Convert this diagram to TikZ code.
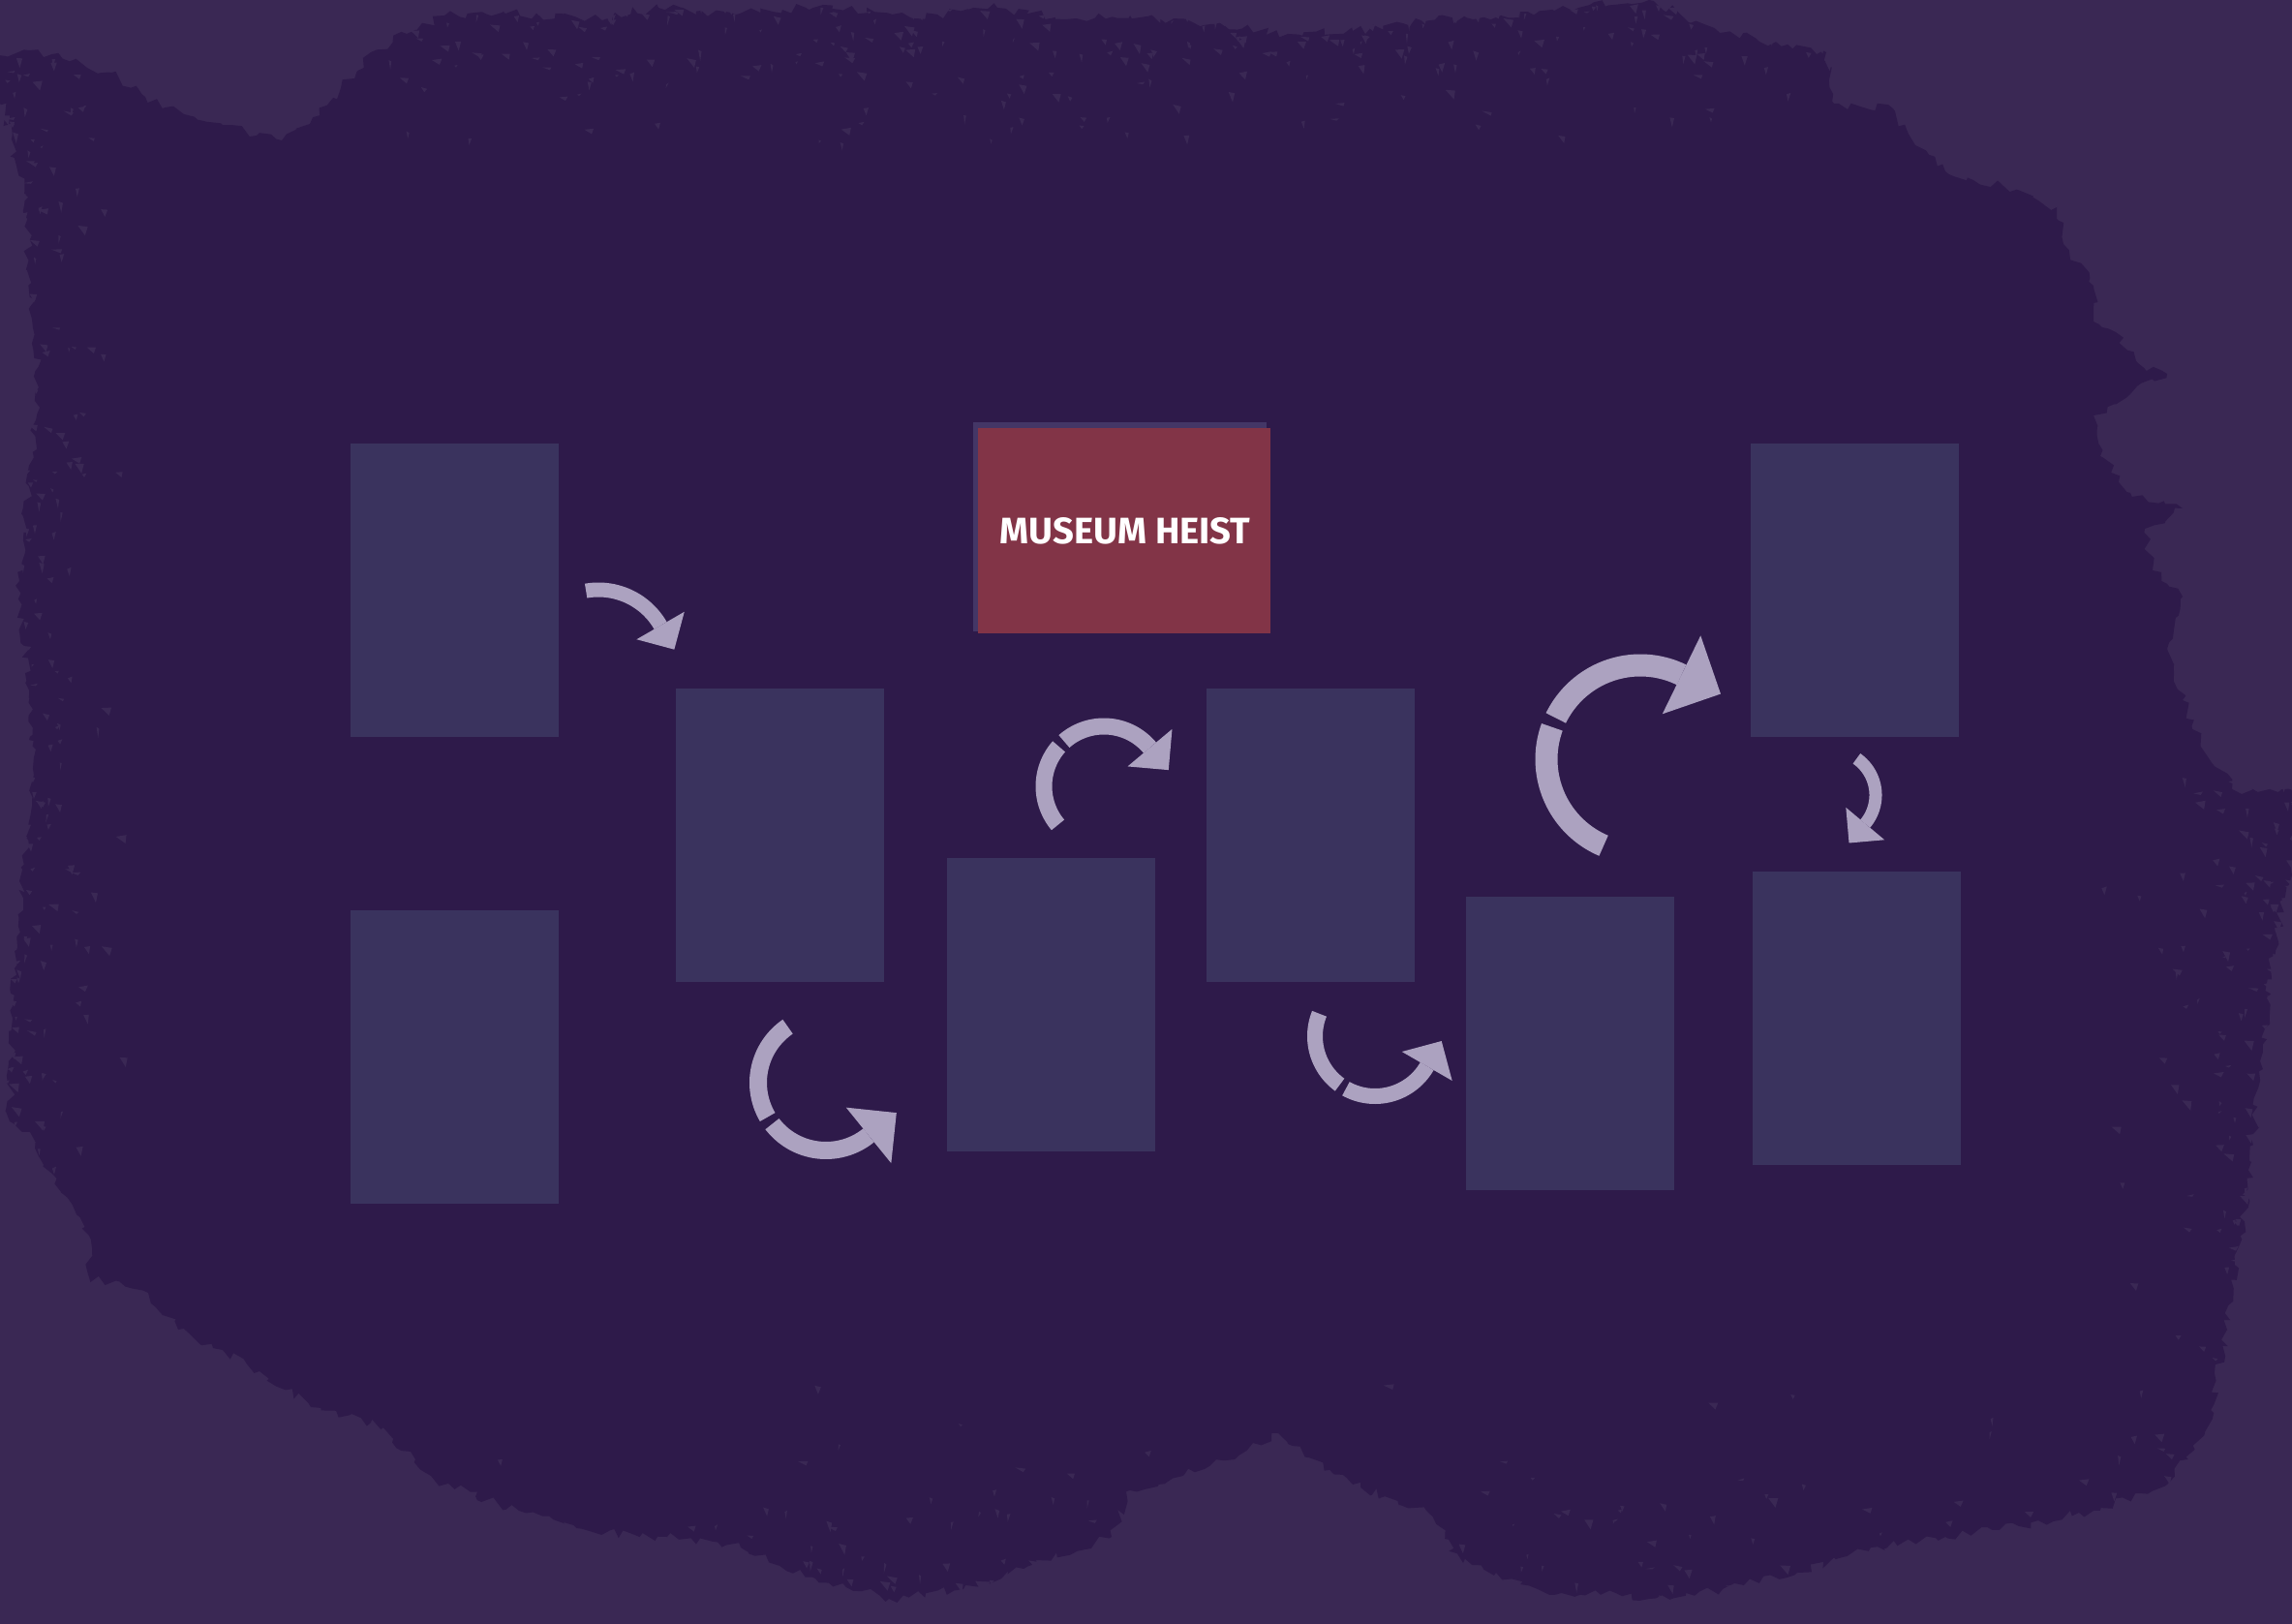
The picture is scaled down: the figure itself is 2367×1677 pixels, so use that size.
\documentclass[tikz,border=0pt]{standalone}
\usepackage{fontspec}
\usepackage{graphicx}
\setmainfont{Fira Sans}
\usetikzlibrary{calc,decorations.pathmorphing}
\definecolor{bgout}{RGB}{58,40,84}
\definecolor{bgin}{RGB}{46,26,74}
\definecolor{panel}{RGB}{58,51,94}
\definecolor{titlered}{RGB}{130,52,71}
\definecolor{titleedge}{RGB}{68,54,102}
\definecolor{arrowc}{RGB}{172,162,192}
% arc piece: cx, cy, r, from, to, band
\newcommand\hstarc[6]{%
  \draw[arrowc, line width=#6pt] plot[domain=#4:#5, samples=40, smooth]
    ({#1+#3*cos(\x)},{#2+#3*sin(\x)});}
% head: cx, cy, r, end angle, half width, turn (+90 clockwise / -90 anticlockwise)
\newcommand\hsthead[6]{%
  \fill[arrowc] ({#1+(#3+#5)*cos(#4)},{#2+(#3+#5)*sin(#4)})
    -- ({#1+(#3-#5)*cos(#4)},{#2+(#3-#5)*sin(#4)})
    -- ({#1+#3*cos(#4)+#5*cos(#4+(#6))},{#2+#3*sin(#4)+#5*sin(#4+(#6))}) -- cycle;}
\tikzset{
  panelbox/.style={fill=panel, inner sep=0pt, minimum width=215pt, minimum height=303pt},
}
\begin{document}
\begin{tikzpicture}[x=1pt,y=-1pt]
\useasboundingbox (0,0) rectangle (2367,1677);
\clip (0,0) rectangle (2367,1677);
\fill[bgout] (0,0) rectangle (2367,1677);
\pgfmathsetseed{4242}
% dark grunge blob
\fill[bgin, decorate, decoration={random steps, segment length=7pt, amplitude=5pt}]
 (-10,62) -- (30,52) -- (62,57) -- (90,70) -- (115,75) -- (150,100) -- (190,118) -- (230,129)
 -- (265,140) -- (291,145) -- (320,128) -- (352,91) -- (383,54) -- (420,35) -- (459,16)
 -- (520,12) -- (600,20) -- (680,8) -- (760,15) -- (850,5) -- (940,18) -- (1030,8) -- (1100,20)
 -- (1167,16) -- (1250,25) -- (1330,35) -- (1397,32) -- (1470,22) -- (1550,16) -- (1630,8)
 -- (1703,0) -- (1760,25) -- (1817,43) -- (1886,54) -- (1894,107) -- (1955,112) -- (1978,150)
 -- (2009,177) -- (2070,193) -- (2124,214) -- (2131,252) -- (2162,295) -- (2162,332)
 -- (2185,343) -- (2208,375) -- (2238,386) -- (2200,407) -- (2162,429) -- (2169,471)
 -- (2200,509) -- (2254,525) -- (2215,546) -- (2223,589) -- (2254,616) -- (2238,670)
 -- (2254,723) -- (2277,777) -- (2315,820) -- (2375,814) -- (2375,837) -- (2345,1000)
 -- (2325,1200) -- (2300,1373) -- (2277,1480) -- (2238,1533) -- (2162,1560) -- (2085,1576)
 -- (2009,1587) -- (1932,1598) -- (1856,1624) -- (1779,1641) -- (1703,1651) -- (1588,1641)
 -- (1511,1614) -- (1473,1560) -- (1397,1533) -- (1320,1480) -- (1244,1517) -- (1167,1539)
 -- (1148,1587) -- (1071,1614) -- (995,1641) -- (918,1651) -- (842,1630) -- (765,1598)
 -- (689,1587) -- (612,1582) -- (536,1560) -- (459,1533) -- (429,1507) -- (383,1469)
 -- (321,1453) -- (268,1416) -- (230,1394) -- (184,1373) -- (153,1335) -- (92,1319)
 -- (92,1276) -- (54,1212) -- (31,1169) -- (10,1158) -- (15,1000) -- (35,800) -- (20,600)
 -- (40,400) -- (25,200) -- cycle;
% grunge specks near the edges
\foreach \i in {1,...,320}{
  \pgfmathsetmacro\px{300+1600*rnd}
  \pgfmathsetmacro\py{5+160*rnd*rnd}
  \fill[bgout] (\px,\py) -- ++({2+9*rnd},{-2+4*rnd}) -- ++({-3+2*rnd},{2+8*rnd}) -- cycle;
}
\foreach \i in {1,...,260}{
  \pgfmathsetmacro\px{130*rnd*rnd}
  \pgfmathsetmacro\py{60+1150*rnd}
  \fill[bgout] (\px,\py) -- ++({2+9*rnd},{-2+4*rnd}) -- ++({-3+2*rnd},{2+8*rnd}) -- cycle;
}
\foreach \i in {1,...,220}{
  \pgfmathsetmacro\px{2367-200*rnd*rnd}
  \pgfmathsetmacro\py{800+750*rnd}
  \fill[bgout] (\px,\py) -- ++({2+9*rnd},{-2+4*rnd}) -- ++({-3+2*rnd},{2+8*rnd}) -- cycle;
}
\foreach \i in {1,...,260}{
  \pgfmathsetmacro\px{250+2000*rnd}
  \pgfmathsetmacro\py{1677-260*rnd*rnd}
  \fill[bgout] (\px,\py) -- ++({2+9*rnd},{-2+4*rnd}) -- ++({-3+2*rnd},{2+8*rnd}) -- cycle;
}
% panels
\node[panelbox] (r1) at (469,609.5) {};
\node[panelbox] (r2) at (469,1091) {};
\node[panelbox] (r3) at (805,862.5) {};
\node[panelbox] (r4) at (1085,1037.5) {};
\node[panelbox] (r5) at (1353,862.5) {};
\node[panelbox] (r6) at (1621.5,1077.5) {};
\node[panelbox] (r7) at (1915.5,609.5) {};
\node[panelbox] (r8) at (1917,1051.5) {};
% title card
\fill[titleedge] (1005,436) rectangle (1308,652);
\node[fill=titlered, inner sep=0pt, minimum width=302pt, minimum height=212pt] (titlecard) at (1161,548) {};
\node[text=white, inner sep=0pt, font=\bfseries\fontsize{38}{40}\selectfont] (title) at (1162,548.5)
  {\resizebox{259pt}{27pt}{MUSEUM HEIST}};
% arrows
% A1
\hstarc{618}{683}{74}{-100}{-30}{15}
\hsthead{618}{683}{74}{-30}{28.5}{90}
% A2
\hstarc{1140}{812}{62}{140}{221.5}{17}
\hstarc{1140}{812}{62}{228.5}{320}{17}
\hsthead{1140}{812}{62}{320}{30}{90}
% A3
\hstarc{1694}{784}{97}{113}{200}{23}
\hstarc{1694}{784}{97}{206}{296}{23}
\hsthead{1694}{784}{97}{296}{45}{90}
% A4
\hstarc{1891}{821}{46}{-55}{40}{13}
\hsthead{1891}{821}{46}{40}{26}{90}
% A5
\hstarc{853}{1118}{70}{149.5}{235.7}{18}
\hstarc{853}{1118}{70}{51}{142.5}{18}
\hsthead{853}{1118}{70}{51}{37}{-90}
% A6
\hstarc{1420}{1070}{62}{126}{202}{16}
\hstarc{1420}{1070}{62}{30}{119}{16}
\hsthead{1420}{1070}{62}{30}{30}{-90}
\end{tikzpicture}
\end{document}
